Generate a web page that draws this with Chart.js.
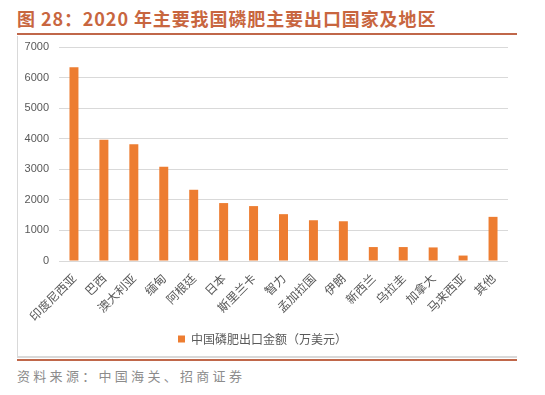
<!DOCTYPE html>
<html>
<head>
<meta charset="utf-8">
<script src="https://cdn.jsdelivr.net/npm/chart.js@4"></script>
<style>
    html, body { margin: 0; padding: 0; background: #fff; }
    body { width: 545px; height: 395px; position: relative; overflow: hidden; }
    .title {
        position: absolute; left: 17px; top: 5px;
        font: bold 18px "Noto Sans CJK SC", sans-serif; letter-spacing: 0.9px;
        color: #c8663f; white-space: nowrap;
    }
    .rule { position: absolute; left: 17px; width: 500px; height: 2px; background: #c0674a; }
    .frame {
        position: absolute; left: 17px; top: 36px; width: 500px; height: 322px;
        border-left: 1px solid #d9d9d9; border-bottom: 2px solid #d9d9d9; box-sizing: border-box;
    }
    .wrap { position: absolute; left: 17px; top: 36px; width: 500px; height: 322px; }
    .source {
        position: absolute; left: 17px; top: 366px;
        font: 13px "Noto Sans CJK SC", serif; letter-spacing: 3.3px;
        color: #8c8c8c; white-space: nowrap;
    }
</style>
</head>
<body>
<div class="title">图 28：2020 年主要我国磷肥主要出口国家及地区</div>
<div class="rule" style="top:33px"></div>
<div class="frame"></div>
<div class="wrap"><canvas id="chart"></canvas></div>
<div class="rule" style="top:359px"></div>
<div class="source">资料来源：中国海关、招商证券</div>

<script>
    /* ── Data ──────────────────────────────────────── */
    const countries = ['印度尼西亚', '巴西', '澳大利亚', '缅甸', '阿根廷', '日本', '斯里兰卡', '智力', '孟加拉国', '伊朗', '新西兰', '乌拉圭', '加拿大', '马来西亚', '其他'];
    const exportValue = [6335, 3970, 3820, 3085, 2330, 1895, 1796, 1532, 1333, 1300, 456, 456, 444, 178, 1444];
    const seriesName = '中国磷肥出口金额（万美元）';
    const yTicks = [0, 1000, 2000, 3000, 4000, 5000, 6000, 7000];

    const textColor = '#595959';

    new Chart(document.getElementById('chart').getContext('2d'), {
        type: 'bar',
        data: {
            labels: countries,
            datasets: [{
                label: seriesName,
                data: exportValue,
                backgroundColor: '#ed7d31',
                categoryPercentage: 1,
                barPercentage: 0.3,
            }],
        },
        options: {
            responsive: true,
            maintainAspectRatio: false,
            animation: false,
            layout: {
                padding: { top: 11, right: 9, bottom: 3, left: 0 },
            },
            plugins: {
                legend: {
                    position: 'bottom',
                    labels: {
                        boxWidth: 7,
                        boxHeight: 7,
                        padding: 8,
                        color: textColor,
                        font: { family: '"Noto Sans CJK SC", sans-serif', size: 12 },
                    },
                },
                tooltip: { enabled: false },
            },
            scales: {
                x: {
                    grid: { display: false },
                    border: { display: false },
                    ticks: {
                        color: textColor,
                        minRotation: 45,
                        maxRotation: 45,
                        padding: 2,
                        autoSkip: false,
                        font: { family: '"Noto Sans CJK SC", sans-serif', size: 12 },
                    },
                    afterFit: (s) => { s.height = 64; },
                },
                y: {
                    min: 0,
                    max: 7000,
                    afterBuildTicks: (s) => { s.ticks = yTicks.map((v) => ({ value: v })); },
                    grid: { color: '#d9d9d9', drawTicks: false },
                    border: { display: false },
                    ticks: {
                        color: textColor,
                        padding: 10,
                        callback: (v) => String(v),
                        font: { family: '"Liberation Sans", sans-serif', size: 11 },
                    },
                    afterFit: (s) => { s.width = 42; s.paddingTop = 0; },
                },
            },
        },
    });
</script>
</body>
</html>
